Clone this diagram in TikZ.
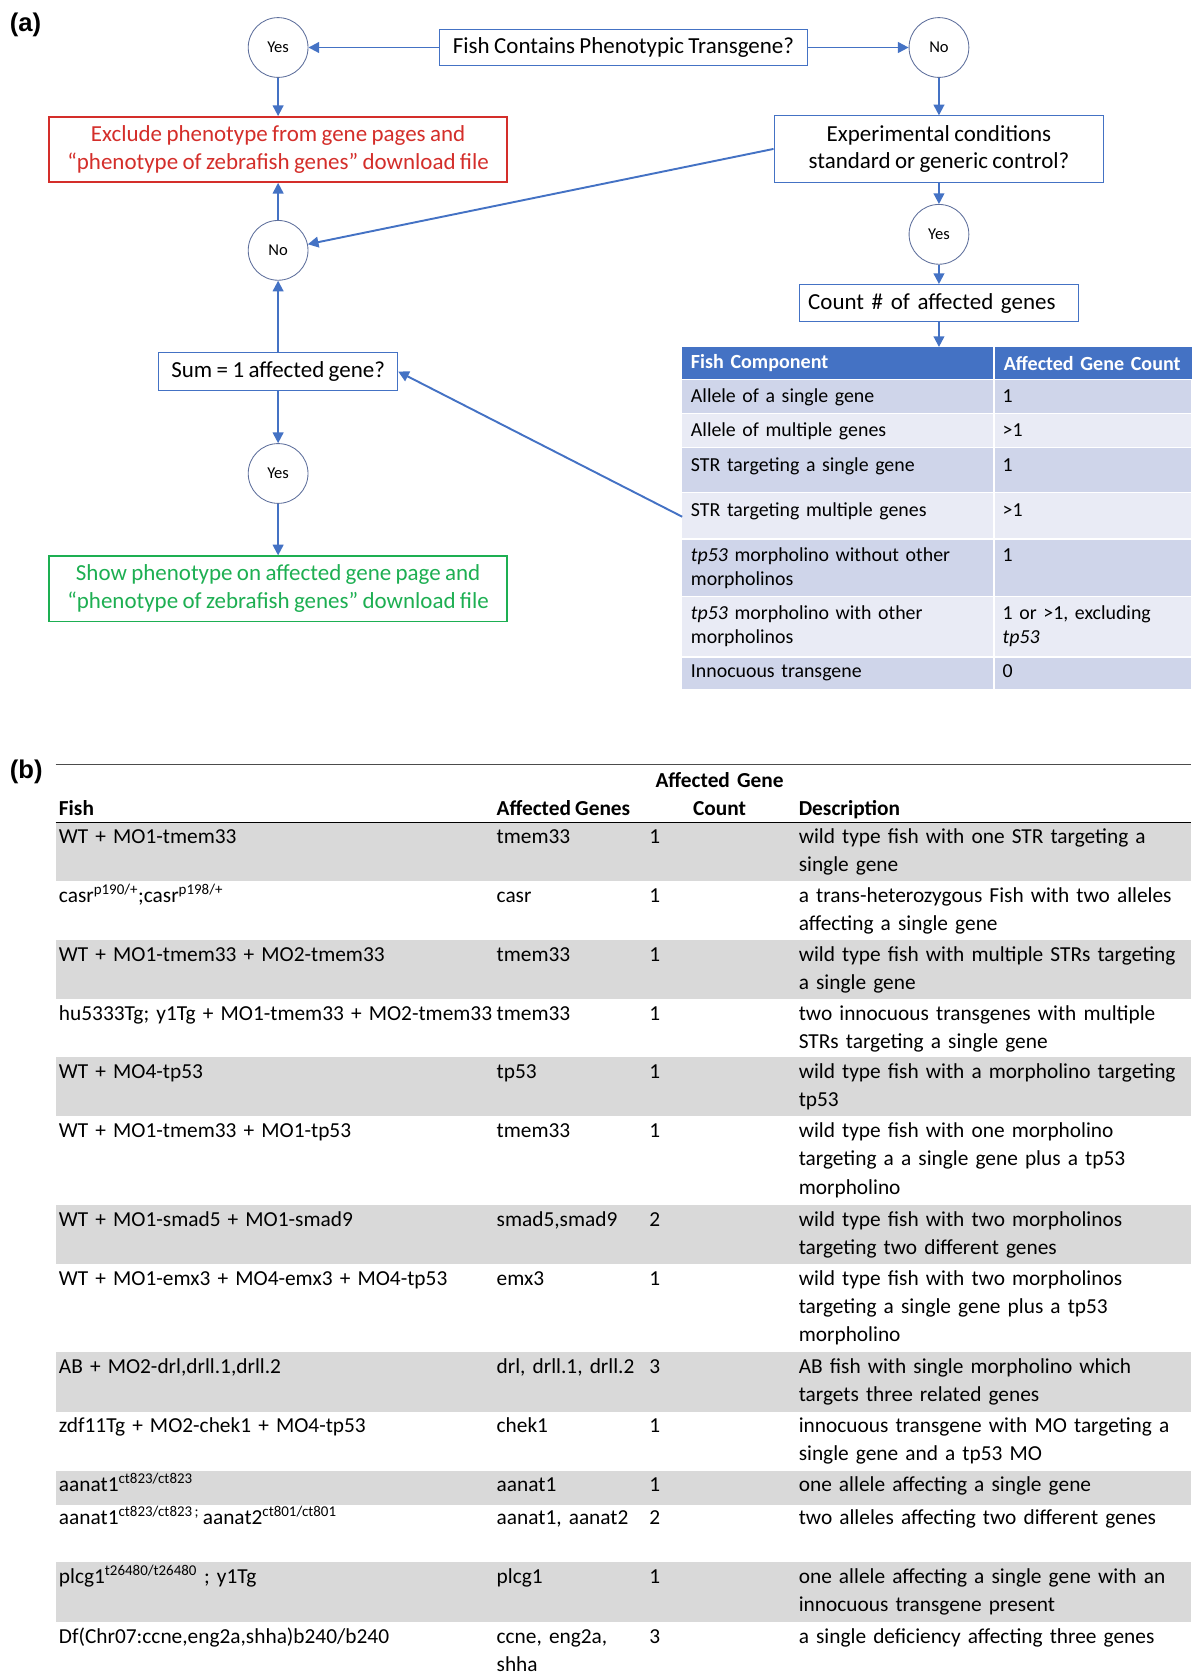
\documentclass[tikz,border=0pt]{standalone}
\usepackage{fontspec}
\setmainfont{Carlito}[WordSpace=0.85]
\newfontfamily\panelfont{Liberation Sans}
\usepackage{tikz}
\usetikzlibrary{arrows.meta}
\usetikzlibrary{calc}

\definecolor{arrblue}{HTML}{4472C4}
\definecolor{ringblue}{HTML}{5E6F9C}
\definecolor{exred}{HTML}{D42E2A}
\definecolor{okgreen}{HTML}{1DAF52}
\definecolor{rowdark}{HTML}{CFD5EA}
\definecolor{rowlight}{HTML}{E9EBF5}
\definecolor{rowgrey}{HTML}{D9D9D9}

\tikzset{
  arr/.style={draw=arrblue, line width=1.8pt, -{Triangle[length=10pt,width=10pt]}},
  qbox/.style={draw=arrblue, line width=0.9pt, fill=white, align=center, font=\fontsize{21.5}{26}\selectfont},
  ring/.style={circle, draw=ringblue, line width=0.8pt, fill=white, minimum size=56pt, inner sep=0pt, font=\fontsize{15.5}{18}\selectfont},
  endbox/.style={draw=#1, text=#1, line width=1.5pt, fill=white, align=center, minimum width=429pt, minimum height=61pt, font=\fontsize{21.5}{26}\selectfont},
  thcell/.style={fill=arrblue, text=white, anchor=north west, minimum height=30pt, inner xsep=8pt, inner ysep=0pt, align=left, font=\fontsize{18.8}{23}\bfseries},
  tcell/.style={anchor=base west, inner sep=0pt, align=left, text width=#1, font=\fontsize{18.6}{23}\selectfont},
  bcell/.style={anchor=base west, inner sep=0pt, align=left, text width=#1, font=\fontsize{20}{26.3}\selectfont},
  bhead/.style={anchor=base west, inner sep=0pt, font=\fontsize{20}{26}\bfseries},
  panel/.style={anchor=west, inner sep=0pt, font=\panelfont\fontsize{24}{28}\bfseries}
}

\begin{document}
\begin{tikzpicture}[x=1pt,y=-1pt]
\useasboundingbox (0,0) rectangle (1116,1568);

\node[panel] (pa) at (9,23) {(a)};

\node[qbox, minimum width=344pt, minimum height=34pt] (fish) at (584,44.5) {Fish Contains Phenotypic Transgene?};
\node[ring] (yes1) at (260.5,44.5) {Yes};
\node[ring] (no1) at (879.5,44.5) {No};
\node[endbox=exred] (excl) at (260.5,140) {Exclude phenotype from gene pages and\\“phenotype of zebrafish genes” download file};
\node[qbox, minimum width=309pt, minimum height=62pt] (expt) at (879.5,139.5) {Experimental conditions\\standard or generic control?};
\node[ring] (yes2) at (879.5,219.5) {Yes};
\node[qbox, minimum height=35pt, text width=245pt, align=left, inner xsep=8pt] (count) at (879.5,284) {Count \# of affected genes};
\node[ring] (no2) at (260.5,234.5) {No};
\node[qbox, minimum width=224pt, minimum height=35pt] (sum) at (260.5,348) {Sum = 1 affected gene?};
\node[ring] (yes3) at (260.5,443.5) {Yes};
\node[endbox=okgreen] (show) at (260.5,551.5) {Show phenotype on affected gene page and\\“phenotype of zebrafish genes” download file};

\node[thcell, text width=275pt] (thcomp) at (639,325) {Fish Component};
\node[thcell, text width=168pt] (thcount) at (932,325) {Affected Gene Count};

\fill[rowdark] (639,355.5) rectangle (1116,386.5);
\fill[rowlight] (639,388) rectangle (1116,418.5);
\fill[rowdark] (639,420) rectangle (1116,460.5);
\fill[rowlight] (639,462) rectangle (1116,504);
\fill[rowdark] (639,505.5) rectangle (1116,558);
\fill[rowlight] (639,559.5) rectangle (1116,614.5);
\fill[rowdark] (639,616) rectangle (1116,645);
\draw[white, line width=2pt] (931,355) -- (931,645);

\node[tcell=280pt] (fc1) at (647,377.2) {Allele of a single gene};
\node[tcell=170pt] (gc1) at (939,377.2) {1};
\node[tcell=280pt] (fc2) at (647,408.5) {Allele of multiple genes};
\node[tcell=170pt] (gc2) at (939,408.5) {>1};
\node[tcell=280pt] (fc3) at (647,441.2) {STR targeting a single gene};
\node[tcell=170pt] (gc3) at (939,441.2) {1};
\node[tcell=280pt] (fc4) at (647,483.5) {STR targeting multiple genes};
\node[tcell=170pt] (gc4) at (939,483.5) {>1};
\node[tcell=280pt] (fc5) at (647,525.5) {\textit{tp53} morpholino without other\\morpholinos};
\node[tcell=170pt] (gc5) at (939,525.5) {1};
\node[tcell=280pt] (fc6) at (647,580.2) {\textit{tp53} morpholino with other\\morpholinos};
\node[tcell=170pt] (gc6) at (939,580.2) {1 or >1, excluding\\\textit{tp53}};
\node[tcell=280pt] (fc7) at (647,635) {Innocuous transgene};
\node[tcell=170pt] (gc7) at (939,635) {0};

\coordinate (tabside) at (639,484);

\draw[arr] (fish) -- (yes1);
\draw[arr] (fish) -- (no1);
\draw[arr] (yes1) -- (excl);
\draw[arr] (no1) -- (expt);
\draw[arr] (expt) -- (yes2);
\draw[arr] (yes2) -- (count);
\draw[arr] (count) -- (count |- thcomp.north);
\draw[arr] (expt.west) -- (no2);
\draw[arr] (no2) -- (excl);
\draw[arr] (sum) -- (no2);
\draw[arr] (tabside) -- (sum.east);
\draw[arr] (sum) -- (yes3);
\draw[arr] (yes3) -- (show);

\node[panel] (pb) at (9,723) {(b)};
\draw[line width=1pt, black!70] (52,716) -- (1116,716);

\fill[rowgrey] (52,770.5) rectangle (1116,825.2);
\fill[rowgrey] (52,880) rectangle (1116,936);
\fill[rowgrey] (52,990) rectangle (1116,1045.7);
\fill[rowgrey] (52,1129) rectangle (1116,1183.8);
\fill[rowgrey] (52,1266.6) rectangle (1116,1322.8);
\fill[rowgrey] (52,1377.4) rectangle (1116,1409.3);
\fill[rowgrey] (52,1463.4) rectangle (1116,1519);
\draw[line width=1.2pt] (52,770.5) -- (1116,770.5);

\node[bhead] (hfish) at (55,764) {Fish};
\node[bhead] (hgenes) at (465,764) {Affected Genes};
\node[bhead, anchor=base, align=center, text width=140pt] (hcount) at (674,738) {Affected Gene\\Count};
\node[bhead] (hdesc) at (748,764) {Description};

\node[bcell=405pt] (f1) at (55,790) {WT + MO1-tmem33};
\node[bcell=140pt] (g1) at (465,790) {tmem33};
\node[bcell=30pt] (n1) at (608,790) {1};
\node[bcell=390pt] (d1) at (748,790) {wild type fish with one STR targeting a\\single gene};

\node[bcell=405pt] (f2) at (55,845.3) {casr\textsuperscript{p190/+};casr\textsuperscript{p198/+}};
\node[bcell=140pt] (g2) at (465,845.3) {casr};
\node[bcell=30pt] (n2) at (608,845.3) {1};
\node[bcell=390pt] (d2) at (748,845.3) {a trans-heterozygous Fish with two alleles\\affecting a single gene};

\node[bcell=405pt] (f3) at (55,900.2) {WT + MO1-tmem33 + MO2-tmem33};
\node[bcell=140pt] (g3) at (465,900.2) {tmem33};
\node[bcell=30pt] (n3) at (608,900.2) {1};
\node[bcell=390pt] (d3) at (748,900.2) {wild type fish with multiple STRs targeting\\a single gene};

\node[bcell=420pt] (f4) at (55,955.5) {hu5333Tg; y1Tg + MO1-tmem33 + MO2-tmem33};
\node[bcell=140pt] (g4) at (465,955.5) {tmem33};
\node[bcell=30pt] (n4) at (608,955.5) {1};
\node[bcell=390pt] (d4) at (748,955.5) {two innocuous transgenes with multiple\\STRs targeting a single gene};

\node[bcell=405pt] (f5) at (55,1010.2) {WT + MO4-tp53};
\node[bcell=140pt] (g5) at (465,1010.2) {tp53};
\node[bcell=30pt] (n5) at (608,1010.2) {1};
\node[bcell=390pt] (d5) at (748,1010.2) {wild type fish with a morpholino targeting\\tp53};

\node[bcell=405pt] (f6) at (55,1065.8) {WT + MO1-tmem33 + MO1-tp53};
\node[bcell=140pt] (g6) at (465,1065.8) {tmem33};
\node[bcell=30pt] (n6) at (608,1065.8) {1};
\node[bcell=390pt] (d6) at (748,1065.8) {wild type fish with one morpholino\\targeting a a single gene plus a tp53\\morpholino};

\node[bcell=405pt] (f7) at (55,1149.2) {WT + MO1-smad5 + MO1-smad9};
\node[bcell=140pt] (g7) at (465,1149.2) {smad5,smad9};
\node[bcell=30pt] (n7) at (608,1149.2) {2};
\node[bcell=390pt] (d7) at (748,1149.2) {wild type fish with two morpholinos\\targeting two different genes};

\node[bcell=405pt] (f8) at (55,1203.8) {WT + MO1-emx3 + MO4-emx3 + MO4-tp53};
\node[bcell=140pt] (g8) at (465,1203.8) {emx3};
\node[bcell=30pt] (n8) at (608,1203.8) {1};
\node[bcell=390pt] (d8) at (748,1203.8) {wild type fish with two morpholinos\\targeting a single gene plus a tp53\\morpholino};

\node[bcell=405pt] (f9) at (55,1286.6) {AB + MO2-drl,drll.1,drll.2};
\node[bcell=145pt] (g9) at (465,1286.6) {drl, drll.1, drll.2};
\node[bcell=30pt] (n9) at (608,1286.6) {3};
\node[bcell=390pt] (d9) at (748,1286.6) {AB fish with single morpholino which\\targets three related genes};

\node[bcell=405pt] (f10) at (55,1342) {zdf11Tg + MO2-chek1 + MO4-tp53};
\node[bcell=140pt] (g10) at (465,1342) {chek1};
\node[bcell=30pt] (n10) at (608,1342) {1};
\node[bcell=390pt] (d10) at (748,1342) {innocuous transgene with MO targeting a\\single gene and a tp53 MO};

\node[bcell=405pt] (f11) at (55,1397.5) {aanat1\textsuperscript{ct823/ct823}};
\node[bcell=140pt] (g11) at (465,1397.5) {aanat1};
\node[bcell=30pt] (n11) at (608,1397.5) {1};
\node[bcell=390pt] (d11) at (748,1397.5) {one allele affecting a single gene};

\node[bcell=405pt] (f12) at (55,1428) {aanat1\textsuperscript{ct823/ct823\,;}\,aanat2\textsuperscript{ct801/ct801}};
\node[bcell=140pt] (g12) at (465,1428) {aanat1, aanat2};
\node[bcell=30pt] (n12) at (608,1428) {2};
\node[bcell=390pt] (d12) at (748,1428) {two alleles affecting two different genes};

\node[bcell=405pt] (f13) at (55,1483.4) {plcg1\textsuperscript{t26480/t26480} ; y1Tg};
\node[bcell=140pt] (g13) at (465,1483.4) {plcg1};
\node[bcell=30pt] (n13) at (608,1483.4) {1};
\node[bcell=390pt] (d13) at (748,1483.4) {one allele affecting a single gene with an\\innocuous transgene present};

\node[bcell=405pt] (f14) at (55,1539) {Df(Chr07:ccne,eng2a,shha)b240/b240};
\node[bcell=140pt] (g14) at (465,1539) {ccne, eng2a,\\shha};
\node[bcell=30pt] (n14) at (608,1539) {3};
\node[bcell=390pt] (d14) at (748,1539) {a single deficiency affecting three genes};
\end{tikzpicture}
\end{document}
